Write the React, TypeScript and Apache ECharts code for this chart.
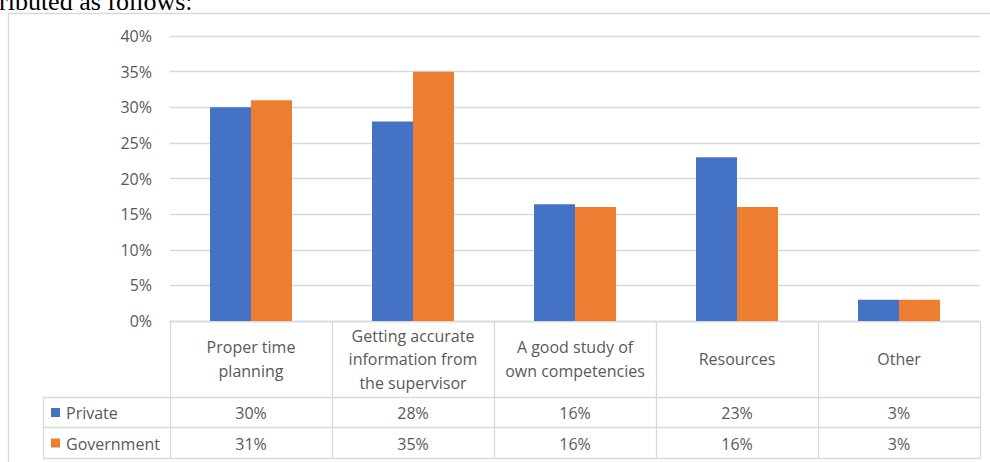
import React, { useEffect, useRef } from "react";
import * as echarts from "echarts";

// Categories (line breaks as they wrap in the table header cells)
const categories = [
  "Proper time\nplanning",
  "Getting accurate\ninformation from\nthe supervisor",
  "A good study of\nown competencies",
  "Resources",
  "Other",
];
const seriesNames = ["Private", "Government"];
const privateValues = [30, 28, 16.4, 23, 3];
const governmentValues = [31, 35, 16, 16, 3];
const yTicks = { min: 0, max: 40, interval: 5 };
const leadText = "ributed as follows:";

const W = 990;
const H = 462;
const GRID_LEFT = 170;
const GRID_RIGHT = 10;
const GRID_TOP = 36;
const AXIS_Y = 321;
const HEADER_BOTTOM = 397;
const ROW1_BOTTOM = 427;
const ROW2_BOTTOM = 458;
const LEGEND_LEFT = 43;

const BLUE = "#4472C4";
const ORANGE = "#ED7D31";
const TEXT = "#595959";
const LINE = "#D9D9D9";
const FONT = "'Open Sans', 'Noto Sans', sans-serif";
const TABLE_FONT_SIZE = 16;

export default function App() {
  const ref = useRef<HTMLDivElement>(null);

  useEffect(() => {
    if (!ref.current) return;
    const chart = echarts.init(ref.current, undefined, { renderer: "svg" });

    const plotW = W - GRID_LEFT - GRID_RIGHT;
    const colW = plotW / categories.length;
    const tableRight = GRID_LEFT + plotW;

    const lineEl = (x1: number, y1: number, x2: number, y2: number) => ({
      type: "line",
      shape: { x1, y1, x2, y2 },
      style: { stroke: LINE, lineWidth: 1.3 },
      silent: true,
    });

    const graphics: any[] = [];
    // chart frame (top and left edges)
    graphics.push(lineEl(8.5, 13.5, W, 13.5));
    graphics.push(lineEl(8.5, 13.5, 8.5, H));

    // data table grid
    [HEADER_BOTTOM, ROW1_BOTTOM, ROW2_BOTTOM].forEach((y) =>
      graphics.push(lineEl(LEGEND_LEFT, y + 0.5, tableRight, y + 0.5))
    );
    graphics.push(lineEl(LEGEND_LEFT + 0.5, HEADER_BOTTOM, LEGEND_LEFT + 0.5, ROW2_BOTTOM + 0.5));
    for (let i = 0; i <= categories.length; i++) {
      const x = Math.round(GRID_LEFT + i * colW) + 0.5;
      graphics.push(lineEl(x, AXIS_Y, x, ROW2_BOTTOM + 0.5));
    }

    // table rows: legend key + values
    const rows = [
      { name: seriesNames[0], color: BLUE, values: privateValues, top: HEADER_BOTTOM, bottom: ROW1_BOTTOM },
      { name: seriesNames[1], color: ORANGE, values: governmentValues, top: ROW1_BOTTOM, bottom: ROW2_BOTTOM },
    ];
    rows.forEach((r) => {
      const cy = (r.top + r.bottom) / 2 + 1;
      graphics.push({
        type: "rect",
        shape: { x: 51, y: cy - 5, width: 9, height: 9 },
        style: { fill: r.color },
        silent: true,
      });
      graphics.push({
        type: "text",
        x: 66,
        y: cy,
        style: {
          text: r.name,
          fill: TEXT,
          font: `${TABLE_FONT_SIZE}px ${FONT}`,
          verticalAlign: "middle",
          align: "left",
        },
        silent: true,
      });
      r.values.forEach((v, i) => {
        graphics.push({
          type: "text",
          x: GRID_LEFT + (i + 0.5) * colW,
          y: cy,
          style: {
            text: `${Math.round(v)}%`,
            fill: TEXT,
            font: `${TABLE_FONT_SIZE}px ${FONT}`,
            verticalAlign: "middle",
            align: "center",
          },
          silent: true,
        });
      });
    });

    // running text above the chart (partly cut off by the top edge)
    graphics.push({
      type: "text",
      x: -1,
      y: -12,
      style: {
        text: leadText,
        fill: "#000",
        font: "26px 'Liberation Serif', 'Times New Roman', serif",
        verticalAlign: "top",
        align: "left",
      },
      silent: true,
    });

    chart.setOption({
      animation: false,
      backgroundColor: "#fff",
      grid: {
        left: GRID_LEFT,
        right: GRID_RIGHT,
        top: GRID_TOP,
        bottom: H - AXIS_Y,
        containLabel: false,
      },
      xAxis: {
        type: "category",
        data: categories,
        axisLine: { show: true, lineStyle: { color: LINE, width: 1.3 } },
        axisTick: { show: false },
        axisLabel: {
          interval: 0,
          color: TEXT,
          fontFamily: FONT,
          fontSize: TABLE_FONT_SIZE,
          lineHeight: 23.5,
          margin: (HEADER_BOTTOM - AXIS_Y) / 2,
          verticalAlign: "middle",
          align: "center",
        },
      },
      yAxis: {
        type: "value",
        min: yTicks.min,
        max: yTicks.max,
        interval: yTicks.interval,
        axisLine: { show: false },
        axisTick: { show: false },
        splitLine: { lineStyle: { color: LINE, width: 1.3 } },
        axisLabel: {
          formatter: "{value}%",
          color: TEXT,
          fontFamily: FONT,
          fontSize: 16,
          margin: 18,
        },
      },
      series: [
        {
          name: seriesNames[0],
          type: "bar",
          data: privateValues,
          barWidth: 41,
          barGap: "0%",
          itemStyle: { color: BLUE },
        },
        {
          name: seriesNames[1],
          type: "bar",
          data: governmentValues,
          barWidth: 41,
          barGap: "0%",
          itemStyle: { color: ORANGE },
        },
      ],
      graphic: graphics,
    });

    return () => chart.dispose();
  }, []);

  return (
    <div
      ref={ref}
      style={{ position: "fixed", left: 0, top: 0, width: W, height: H }}
    />
  );
}
